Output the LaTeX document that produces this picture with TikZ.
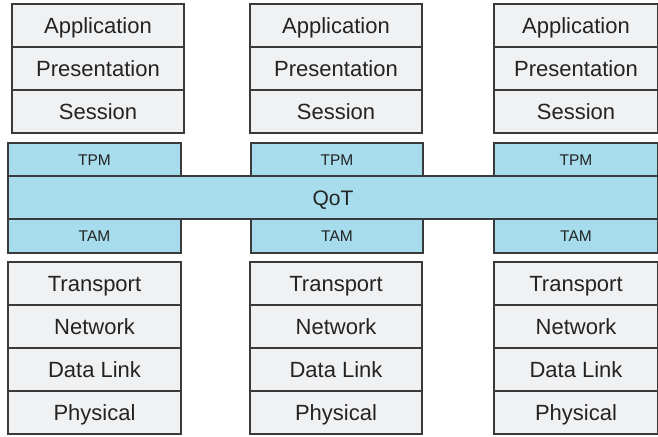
\documentclass[tikz,border=0pt]{standalone}
\usepackage{fontspec}
\setmainfont{Liberation Sans}
\definecolor{layergray}{RGB}{240,241,243}
\definecolor{qotblue}{RGB}{166,220,236}
\definecolor{edgegray}{RGB}{58,58,58}
\definecolor{textgray}{RGB}{35,35,35}
\tikzset{
  layer/.style={draw=edgegray, fill=layergray, line width=1.1pt, inner sep=0pt, outer sep=0pt,
    anchor=north west, text=textgray, text height=15.5pt, text depth=0pt,
    font=\fontsize{22}{26}\selectfont},
  tlayer/.style={layer, fill=qotblue, text height=11pt, font=\fontsize{15.5}{18}\selectfont}
}
\begin{document}
\begin{tikzpicture}[x=1pt, y=-1pt]
 \useasboundingbox (0,0) rectangle (658,436);

 % upper layers
 \foreach \c/\xt/\w in {1/12/172, 2/250/172, 3/494/164} {
   \foreach \name [count=\i] in {Application, Presentation, Session}
     \node[layer, minimum width=\w pt, minimum height=43pt] (up\c-\i) at (\xt, {4+(\i-1)*43}) {\name};
 }

 % transport protocol / adaptation modules
 \foreach \c/\xb/\w in {1/8/173, 2/251/172, 3/494/164} {
   \node[tlayer, minimum width=\w pt, minimum height=33pt] (tpm\c) at (\xb,143) {TPM};
   \node[tlayer, minimum width=\w pt, minimum height=34pt] (tam\c) at (\xb,219) {TAM};
 }

 % QoT band
 \node[tlayer, text height=15pt, font=\fontsize{21}{24}\selectfont, minimum width=650pt, minimum height=43pt] (qot) at (8,176) {QoT};

 % lower layers
 \foreach \c/\xb/\w in {1/8/173, 2/250/172, 3/494/164} {
   \foreach \name [count=\i] in {Transport, Network, Data Link, Physical}
     \node[layer, minimum width=\w pt, minimum height=43pt] (low\c-\i) at (\xb, {262+(\i-1)*43}) {\name};
 }

\end{tikzpicture}
\end{document}
